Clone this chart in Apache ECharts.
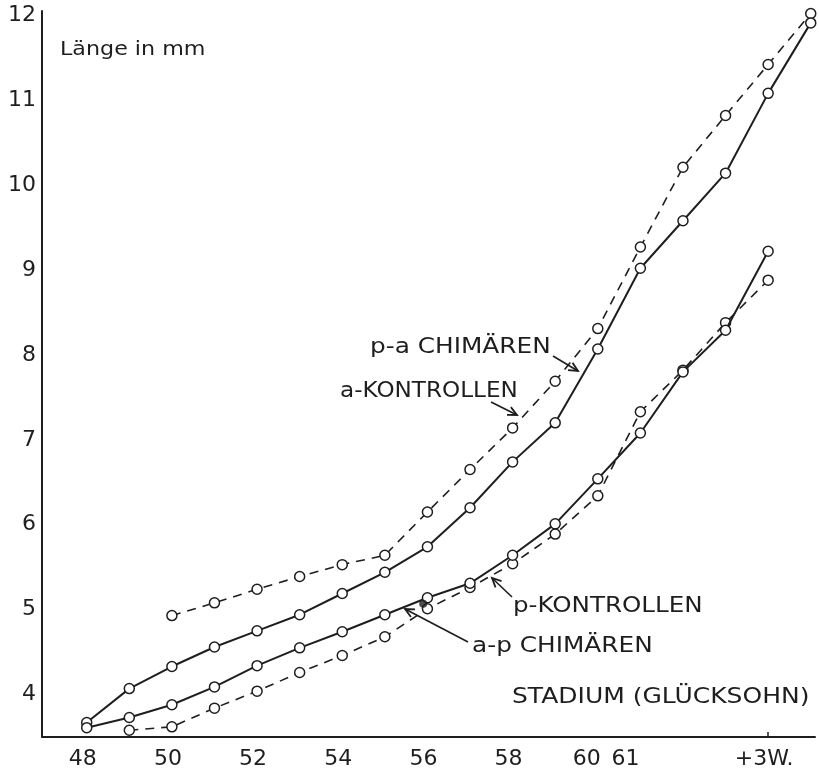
<!DOCTYPE html>
<html>
<head>
<meta charset="utf-8">
<script src="https://cdn.jsdelivr.net/npm/echarts@6/dist/echarts.min.js"></script>
<style>
html,body{margin:0;padding:0;background:#fff;}
#chart{width:819px;height:773px;}
</style>
</head>
<body>
<div id="chart"></div>
<script>
// ---- data ----
const stages = [48,49,50,51,52,53,54,55,56,57,58,59,60,61,62,63,64,65];
// solid upper line (p-a Chimären)
const paChimStages = stages.slice(0);
const paChim = [3.67,4.07,4.33,4.56,4.75,4.94,5.19,5.44,5.74,6.20,6.74,7.20,8.07,9.02,9.58,10.14,11.08,11.91];
// dashed upper line (a-Kontrollen)
const aKontrStages = stages.slice(2);
const aKontr = [4.93,5.08,5.24,5.39,5.53,5.64,6.15,6.65,7.14,7.69,8.31,9.27,10.21,10.82,11.42,12.02];
// solid lower line (a-p Chimären)
const apChimStages = stages.slice(0, 17);
const apChim = [3.61,3.73,3.88,4.09,4.34,4.55,4.74,4.94,5.14,5.31,5.64,6.01,6.54,7.08,7.80,8.29,9.22];
// dashed lower line (p-Kontrollen)
const pKontrStages = stages.slice(1, 17);
const pKontr = [3.58,3.62,3.84,4.04,4.26,4.46,4.68,5.01,5.26,5.54,5.89,6.34,7.33,7.82,8.38,8.88];
// filled point
const filledX = [55.9];
const filledY = [5.07];
// tick labels
const xTickValues = [48,50,52,54,56,58,60,61,64];
const xTickLabels = ['48','50','52','54','56','58','60','61','+3W.'];
const yTickValues = [4,5,6,7,8,9,10,11,12];

const INK = '#1e1e1e';
const FONT = 'DejaVu Sans';

function pairs(xs, ys){ return xs.map((x,i)=>[x, ys[i]]); }

function lineSeries(name, xs, ys, dashed){
  return {
    name: name, type: 'line', data: pairs(xs, ys),
    symbol: 'circle', symbolSize: 10, showSymbol: true,
    lineStyle: dashed ? {color: INK, width: 1.6, type: [9, 7]} : {color: INK, width: 2},
    itemStyle: {color: '#fff', borderColor: INK, borderWidth: 1.5},
    z: dashed ? 3 : 4,
    animation: false, silent: true
  };
}

// ---- annotations (pixel positions) ----
function arrow(x1, y1, x2, y2){
  const ang = Math.atan2(y2 - y1, x2 - x1);
  const L = 10, a = 0.45;
  const p1 = [x2 - L*Math.cos(ang - a), y2 - L*Math.sin(ang - a)];
  const p2 = [x2 - L*Math.cos(ang + a), y2 - L*Math.sin(ang + a)];
  return [
    {type:'line', shape:{x1:x1,y1:y1,x2:x2,y2:y2}, style:{stroke:INK, lineWidth:1.6}, silent:true},
    {type:'polyline', shape:{points:[p1,[x2,y2],p2]}, style:{stroke:INK, lineWidth:1.8, fill:null}, silent:true}
  ];
}
function label(text, x, y, size, sx){
  return {type:'text', x:x, y:y, scaleX: sx || 1, style:{text:text, fill:INK, font: size + 'px "' + FONT + '"', textAlign:'left', textVerticalAlign:'middle'}, silent:true};
}

const graphics = [].concat(
  [label('Länge in mm', 60, 50, 20, 1.11)],
  [label('p-a CHIMÄREN', 370, 348, 21, 1.18)],
  arrow(553, 356, 578, 371),
  [label('a-KONTROLLEN', 340, 392, 21, 1.1)],
  arrow(491, 402, 517, 415),
  [label('p-KONTROLLEN', 513, 607, 21, 1.17)],
  arrow(512, 597, 492, 578),
  [label('a-p CHIMÄREN', 472, 647, 21, 1.18)],
  arrow(468, 642, 405, 609),
  [label('STADIUM (GLÜCKSOHN)', 512, 698, 21, 1.19)]
);

const richBase = {color: INK, fontFamily: FONT, fontSize: 22};
const chart = echarts.init(document.getElementById('chart'), null, {renderer:'canvas'});
chart.setOption({
  animation: false,
  backgroundColor: '#fff',
  grid: {left: 42, right: 4, top: 11, bottom: 36, containLabel: false},
  xAxis: {
    type: 'value', min: 46.95, max: 65.1,
    axisLine: {show: true, lineStyle: {color: INK, width: 2}},
    splitLine: {show: false},
    axisTick: {show: true, inside: true, length: 5, customValues: [64], lineStyle:{color: INK, width: 1.5}},
    axisLabel: {
      customValues: xTickValues,
      formatter: function(v){
        const i = xTickValues.indexOf(v);
        if (i < 0) return '';
        const t = xTickLabels[i];
        const key = t === '60' ? 'b' : (t === '61' ? 'c' : 'a');
        return '{' + key + '|' + t + '}';
      },
      color: INK, fontFamily: FONT, fontSize: 22, margin: 11,
      rich: {
        a: Object.assign({padding: [0, 8, 0, 0]}, richBase),
        b: Object.assign({padding: [0, 22, 0, 0]}, richBase),
        c: Object.assign({padding: [0, 30, 0, 0]}, richBase)
      }
    }
  },
  yAxis: {
    type: 'value', min: 3.5, max: 12.05,
    axisLine: {show: true, lineStyle: {color: INK, width: 2}},
    splitLine: {show: false},
    axisTick: {show: false},
    axisLabel: {
      customValues: yTickValues,
      color: INK, fontFamily: FONT, fontSize: 22, margin: 6
    }
  },
  series: [
    lineSeries('a-Kontrollen', aKontrStages, aKontr, true),
    lineSeries('p-a Chimären', paChimStages, paChim, false),
    lineSeries('p-Kontrollen', pKontrStages, pKontr, true),
    lineSeries('a-p Chimären', apChimStages, apChim, false),
    {
      name: 'filled', type: 'scatter', data: pairs(filledX, filledY),
      symbol: 'circle', symbolSize: 8, itemStyle: {color: INK}, z: 6, silent: true
    }
  ],
  graphic: graphics
});
</script>
</body>
</html>
